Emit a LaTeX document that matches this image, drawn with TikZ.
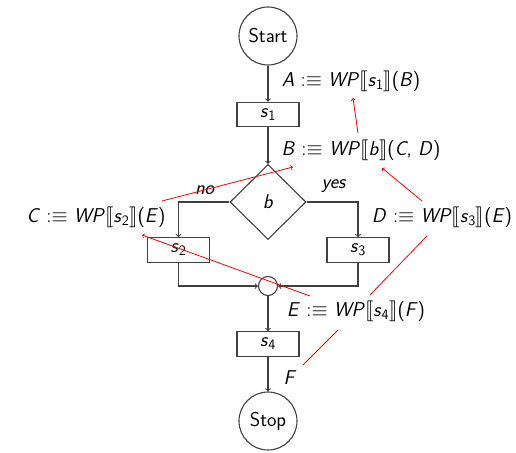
\documentclass[tikz,border=0pt]{standalone}
\usepackage{amsmath}
\usepackage{stmaryrd}
\usetikzlibrary{shapes.geometric,calc}
\newcommand{\vv}[1]{\textit{#1}}
\newcommand{\sv}[1]{\vv{s}$_{\mathsf{#1}}$}
\newcommand{\wpl}[3]{\vv{#1} $:\equiv$ \vv{WP}$\llbracket$#2$\rrbracket$(#3)}
\begin{document}
\begin{tikzpicture}[x=1pt,y=-1pt,
  every node/.style={font=\fontsize{20}{23}\selectfont\sffamily},
  ln/.style={draw=black!75,line width=1.1pt},
  term/.style={ln,circle,minimum size=58pt,inner sep=0pt},
  stmt/.style={ln,rectangle,minimum width=62pt,minimum height=24.5pt,inner sep=0pt},
  cond/.style={ln,diamond,minimum width=76pt,minimum height=75pt,inner sep=0pt},
  junc/.style={ln,circle,minimum size=19pt,inner sep=0pt},
  lbl/.style={inner sep=0pt},
  flow/.style={ln,->},
  wpa/.style={draw=red,line width=0.8pt,->},
  wpn/.style={draw=red,line width=0.8pt}]
\useasboundingbox (0,0) rectangle (516,452);
\node[term] (start) at (268,36) {Start};
\node[stmt] (s1) at (268,114.5) {\sv{1}};
\node[cond] (b) at (268,202) {\vv{b}};
\node[stmt] (s2) at (178.5,250) {\sv{2}};
\node[stmt] (s3) at (358,250) {\sv{3}};
\node[junc] (j) at (268,286) {};
\node[stmt] (s4) at (268,344) {\sv{4}};
\node[term] (stop) at (268,421) {Stop};
\draw[flow] (start) -- (s1);
\draw[flow] (s1) -- (b);
\draw[flow] (b.west) -| (s2.north);
\draw[flow] (b.east) -| (s3.north);
\draw[flow] (s2.south) |- (j.west);
\draw[flow] (s3.south) |- (j.east);
\draw[flow] (j) -- (s4);
\draw[flow] (s4) -- (stop);
\node[lbl] (no) at (205,190) {\vv{no}};
\node[lbl] (yes) at (334,186) {\vv{yes}};
\node[lbl] (A) at (351,81) {\wpl{A}{\sv{1}}{\vv{B}}};
\node[lbl] (B) at (361,150) {\wpl{B}{\vv{b}}{\vv{C}, \vv{D}}};
\node[lbl] (C) at (96,217) {\wpl{C}{\sv{2}}{\vv{E}}};
\node[lbl] (D) at (442,217) {\wpl{D}{\sv{3}}{\vv{E}}};
\node[lbl] (E) at (356,311) {\wpl{E}{\sv{4}}{\vv{F}}};
\node[lbl] (F) at (290,378) {\vv{F}};
\coordinate (bA1) at (358,133); \coordinate (bA2) at (353,98);
\coordinate (dB1) at (422,201); \coordinate (dB2) at (382,168);
\coordinate (cB1) at (162,201); \coordinate (cB2) at (293,167);
\coordinate (eC1) at (310,296); \coordinate (eC2) at (142,235);
\coordinate (eD1) at (370,295); \coordinate (eD2) at (427,236);
\coordinate (fE1) at (303,365); \coordinate (fE2) at (338,330);
\draw[wpa] (bA1) -- (bA2);
\draw[wpa] (dB1) -- (dB2);
\draw[wpa] (cB1) -- (cB2);
\draw[wpa] (eC1) -- (eC2);
\draw[wpn] (eD1) -- (eD2);
\draw[wpn] (fE1) -- (fE2);
\end{tikzpicture}
\end{document}
